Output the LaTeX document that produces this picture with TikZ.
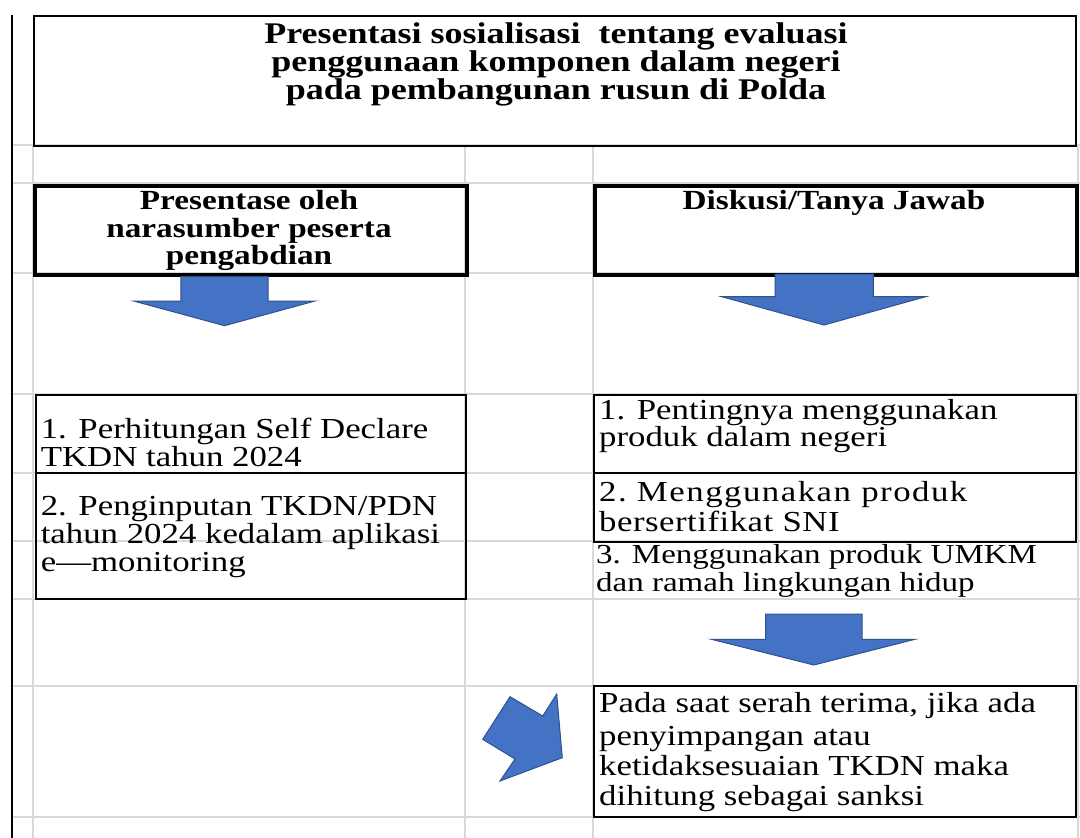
\documentclass[tikz,border=0pt]{standalone}
\usepackage{fontspec}
\setmainfont{Liberation Serif}[FakeStretch=1.2]
\definecolor{gridgray}{RGB}{217,217,217}
\definecolor{arrowblue}{RGB}{68,114,196}
\definecolor{arrowedge}{RGB}{47,82,143}
\makeatletter
\newcommand\spacedword[2]{\@tfor\sw@ch:=#2\do{\sw@ch\kern#1}}
\makeatother
\tikzset{
  gridline/.style={draw=gridgray, line width=2pt},
  thinbox/.style={draw=black, line width=2pt, inner sep=0pt, anchor=north west},
  thickbox/.style={draw=black, line width=3.5pt, inner sep=0pt, anchor=north west},
  blockarrow/.style={fill=arrowblue, draw=arrowedge, line width=1pt, line join=miter},
  titletext/.style={anchor=base, inner sep=0pt, font=\fontsize{30}{31}\selectfont\bfseries},
  headtext/.style={anchor=base, inner sep=0pt, font=\fontsize{27.7}{29}\selectfont\bfseries},
  bodytext/.style={anchor=base west, inner sep=0pt, font=\fontsize{29}{30}\selectfont},
  smalltext/.style={anchor=base west, inner sep=0pt, font=\fontsize{27.5}{29}\selectfont},
}
\begin{document}
\begin{tikzpicture}[x=1pt,y=-1pt]
\useasboundingbox (0,0) rectangle (1080,838);
% spreadsheet grid
\foreach \yy in {145,183,273,394,473,541,599,686,817}
  \draw[gridline] (12,\yy) -- (1080,\yy);
\foreach \xx in {33,465,593,1078}
  \draw[gridline] (\xx,145) -- (\xx,838);
\draw[black, line width=2pt] (12,15) -- (12,838);

% boxes
\node[thinbox, minimum width=1042pt, minimum height=130pt] (top) at (33,15) {};
\node[thickbox, minimum width=432pt, minimum height=89pt] (pres) at (33,184) {};
\node[thickbox, minimum width=482pt, minimum height=89pt] (disk) at (593,184) {};
\node[thinbox, minimum width=430pt, minimum height=78pt] (l1) at (35,394) {};
\node[thinbox, minimum width=430pt, minimum height=126pt] (l2) at (35,472) {};
\node[thinbox, minimum width=482pt, minimum height=78pt] (r1) at (593,394) {};
\node[thinbox, minimum width=482pt, minimum height=69pt] (r2) at (593,472) {};
\node[thinbox, minimum width=482pt, minimum height=131pt] (r4) at (593,685) {};

% title
\node[titletext] (ta) at (556,43) {Presentasi sosialisasi\ \ tentang evaluasi};
\node[titletext] (tb) at (556,71) {penggunaan komponen dalam negeri};
\node[titletext] (tc) at (556,99) {pada pembangunan rusun di Polda};

\node[headtext] (pa) at (249,209) {Presentase oleh};
\node[headtext] (pb) at (249,237) {narasumber peserta};
\node[headtext] (pc) at (249,264) {pengabdian};
\node[headtext] (da) at (834,209) {Diskusi/Tanya Jawab};

% left items
\node[bodytext] (l1a) at (40.6,438) {1. Perhitungan Self Declare};
\node[bodytext] (l1b) at (40.6,466.7) {TKDN tahun 2024};
\node[bodytext] (l2a) at (40.6,515) {2. Penginputan TKDN/PDN};
\node[bodytext] (l2b) at (40.6,543.3) {tahun 2024 kedalam aplikasi};
\node[bodytext] (l2c) at (40.6,571.7) {e---monitoring};

% right items
\node[bodytext] (r1a) at (599,419.3) {1. Pentingnya menggunakan};
\node[bodytext] (r1b) at (599,446.7) {produk dalam negeri};
\node[bodytext] (r2a) at (599,501.7) {\spacedword{1.5pt}{2.}\ \spacedword{1.5pt}{Menggunakan}\ \spacedword{1.5pt}{produk}};
\node[bodytext] (r2b) at (599,531.7) {\spacedword{0.5pt}{bersertifikat}\ \spacedword{0.5pt}{SNI}};
\node[smalltext] (r3a) at (596,563.3) {3. Menggunakan produk UMKM};
\node[smalltext] (r3b) at (596,591.7) {dan ramah lingkungan hidup};

\node[bodytext] (r4a) at (599,712.7) {Pada saat serah terima, jika ada};
\node[bodytext] (r4b) at (599,745.7) {penyimpangan atau};
\node[bodytext] (r4c) at (599,775.7) {ketidaksesuaian TKDN maka};
\node[bodytext] (r4d) at (599,805) {dihitung sebagai sanksi};

% block arrows
\draw[blockarrow] (180.8,276.7) -- (268,276.7) -- (268,301) -- (315,301) -- (224.5,325.7) -- (133.6,301) -- (180.8,301) -- cycle;
\draw[blockarrow] (775.2,274) -- (873.3,274) -- (873.3,296.7) -- (925.7,296.7) -- (824,325) -- (721.8,296.7) -- (775.2,296.7) -- cycle;
\draw[blockarrow] (765.5,614) -- (862,614) -- (862,639.3) -- (915,639.3) -- (813.8,665) -- (711.5,639.3) -- (765.5,639.3) -- cycle;
\draw[blockarrow] (510,696.7) -- (542.7,716) -- (556.7,694) -- (562.3,757.7) -- (500,781) -- (515,759) -- (482.7,739.3) -- cycle;
\end{tikzpicture}
\end{document}
